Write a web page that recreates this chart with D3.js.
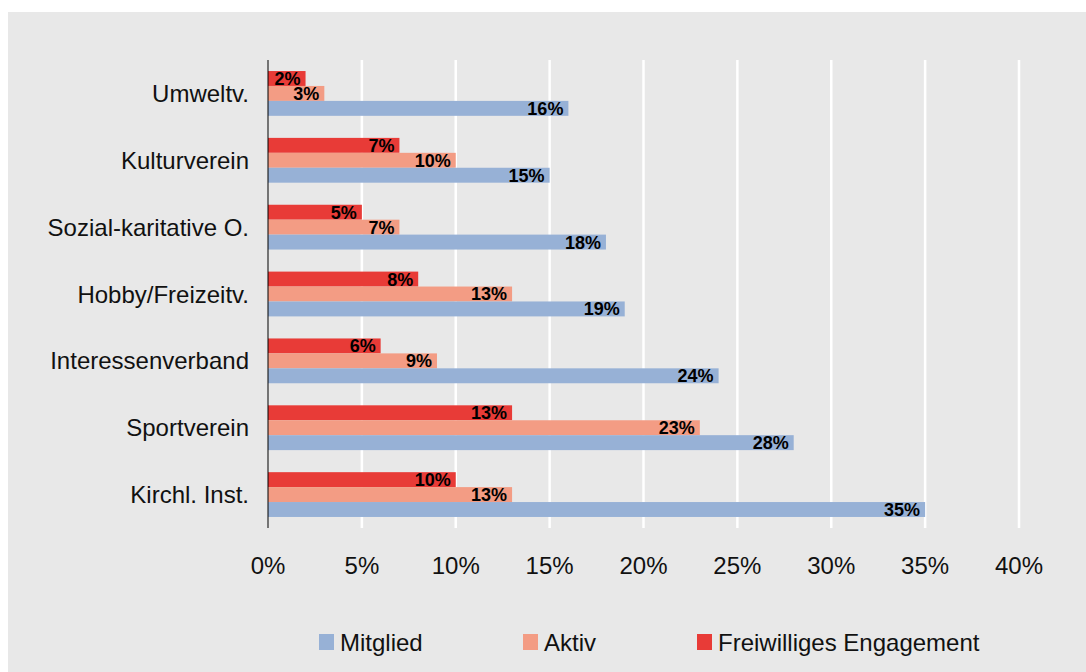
<!DOCTYPE html>
<html>
<head>
<meta charset="utf-8">
<script src="https://cdn.jsdelivr.net/npm/d3@7"></script>
<style>
  body { margin: 0; background: #fff; }
  svg { display: block; font-family: "Liberation Sans", Arial, sans-serif; }
</style>
</head>
<body>
<div id="chart"></div>
<script>
// Categories from top to bottom
const categories = ['Umweltv.', 'Kulturverein', 'Sozial-karitative O.', 'Hobby/Freizeitv.', 'Interessenverband', 'Sportverein', 'Kirchl. Inst.'];

// Series values (percent)
const mitglied = [16, 15, 18, 19, 24, 28, 35];
const aktiv = [3, 10, 7, 13, 9, 23, 13];
const freiwillig = [2, 7, 5, 8, 6, 13, 10];

const seriesNames = ['Freiwilliges Engagement', 'Aktiv', 'Mitglied'];
const seriesColors = { 'Mitglied': '#97b1d6', 'Aktiv': '#f39c84', 'Freiwilliges Engagement': '#e83b37' };
const xTicks = [0, 5, 10, 15, 20, 25, 30, 35, 40];

const width = 1086, height = 672;
const margin = { left: 268, right: 67, top: 60, bottom: 144 };

const svg = d3.select('#chart').append('svg')
    .attr('width', width)
    .attr('height', height);

// Gray panel
svg.append('rect')
    .attr('x', 8).attr('y', 12)
    .attr('width', width - 8).attr('height', height - 12)
    .attr('fill', '#e8e8e8');

const x = d3.scaleLinear()
    .domain([0, 40])
    .range([margin.left, width - margin.right]);

const y = d3.scaleBand()
    .domain(categories)
    .range([margin.top, height - margin.bottom])
    .paddingInner(0.33)
    .paddingOuter(0.165);

const ySub = d3.scaleBand()
    .domain(seriesNames)
    .range([0, y.bandwidth()]);

// Gridlines
svg.append('g')
    .selectAll('line')
    .data(xTicks.slice(1))
    .join('line')
    .attr('x1', d => x(d)).attr('x2', d => x(d))
    .attr('y1', margin.top).attr('y2', height - margin.bottom)
    .attr('stroke', '#ffffff')
    .attr('stroke-width', 2.5);

// Rows of data
const rows = categories.map((c, i) => ({
    cat: c,
    'Mitglied': mitglied[i],
    'Aktiv': aktiv[i],
    'Freiwilliges Engagement': freiwillig[i]
}));

const groups = svg.append('g')
    .selectAll('g')
    .data(rows)
    .join('g')
    .attr('transform', d => `translate(0,${y(d.cat)})`);

groups.selectAll('rect')
    .data(d => seriesNames.map(s => ({ s, v: d[s] })))
    .join('rect')
    .attr('x', x(0))
    .attr('y', d => ySub(d.s))
    .attr('width', d => x(d.v) - x(0))
    .attr('height', ySub.bandwidth())
    .attr('fill', d => seriesColors[d.s]);

groups.selectAll('text')
    .data(d => seriesNames.map(s => ({ s, v: d[s] })))
    .join('text')
    .attr('x', d => x(d.v) - 5)
    .attr('y', d => ySub(d.s) + ySub.bandwidth() / 2)
    .attr('dy', '0.36em')
    .attr('text-anchor', 'end')
    .attr('font-size', 18)
    .attr('font-weight', 'bold')
    .attr('fill', '#000')
    .text(d => d.v + '%');

// Y axis line
svg.append('line')
    .attr('x1', x(0)).attr('x2', x(0))
    .attr('y1', margin.top).attr('y2', height - margin.bottom)
    .attr('stroke', '#000')
    .attr('stroke-width', 1);

// Category labels
svg.append('g')
    .selectAll('text')
    .data(categories)
    .join('text')
    .attr('x', 249)
    .attr('y', d => y(d) + y.bandwidth() / 2)
    .attr('dy', '0.36em')
    .attr('text-anchor', 'end')
    .attr('font-size', 24)
    .attr('fill', '#111')
    .text(d => d);

// X tick labels
svg.append('g')
    .selectAll('text')
    .data(xTicks)
    .join('text')
    .attr('x', d => x(d))
    .attr('y', 565)
    .attr('dy', '0.36em')
    .attr('text-anchor', 'middle')
    .attr('font-size', 24)
    .attr('fill', '#111')
    .text(d => d + '%');

// Legend
const legendItems = [
    { name: 'Mitglied', x: 319 },
    { name: 'Aktiv', x: 523 },
    { name: 'Freiwilliges Engagement', x: 697 }
];

const legend = svg.append('g')
    .selectAll('g')
    .data(legendItems)
    .join('g')
    .attr('transform', d => `translate(${d.x},642)`);

legend.append('rect')
    .attr('x', 0).attr('y', -8)
    .attr('width', 15).attr('height', 16)
    .attr('fill', d => seriesColors[d.name]);

legend.append('text')
    .attr('x', 21)
    .attr('dy', '0.36em')
    .attr('font-size', 24)
    .attr('fill', '#111')
    .text(d => d.name);
</script>
</body>
</html>
